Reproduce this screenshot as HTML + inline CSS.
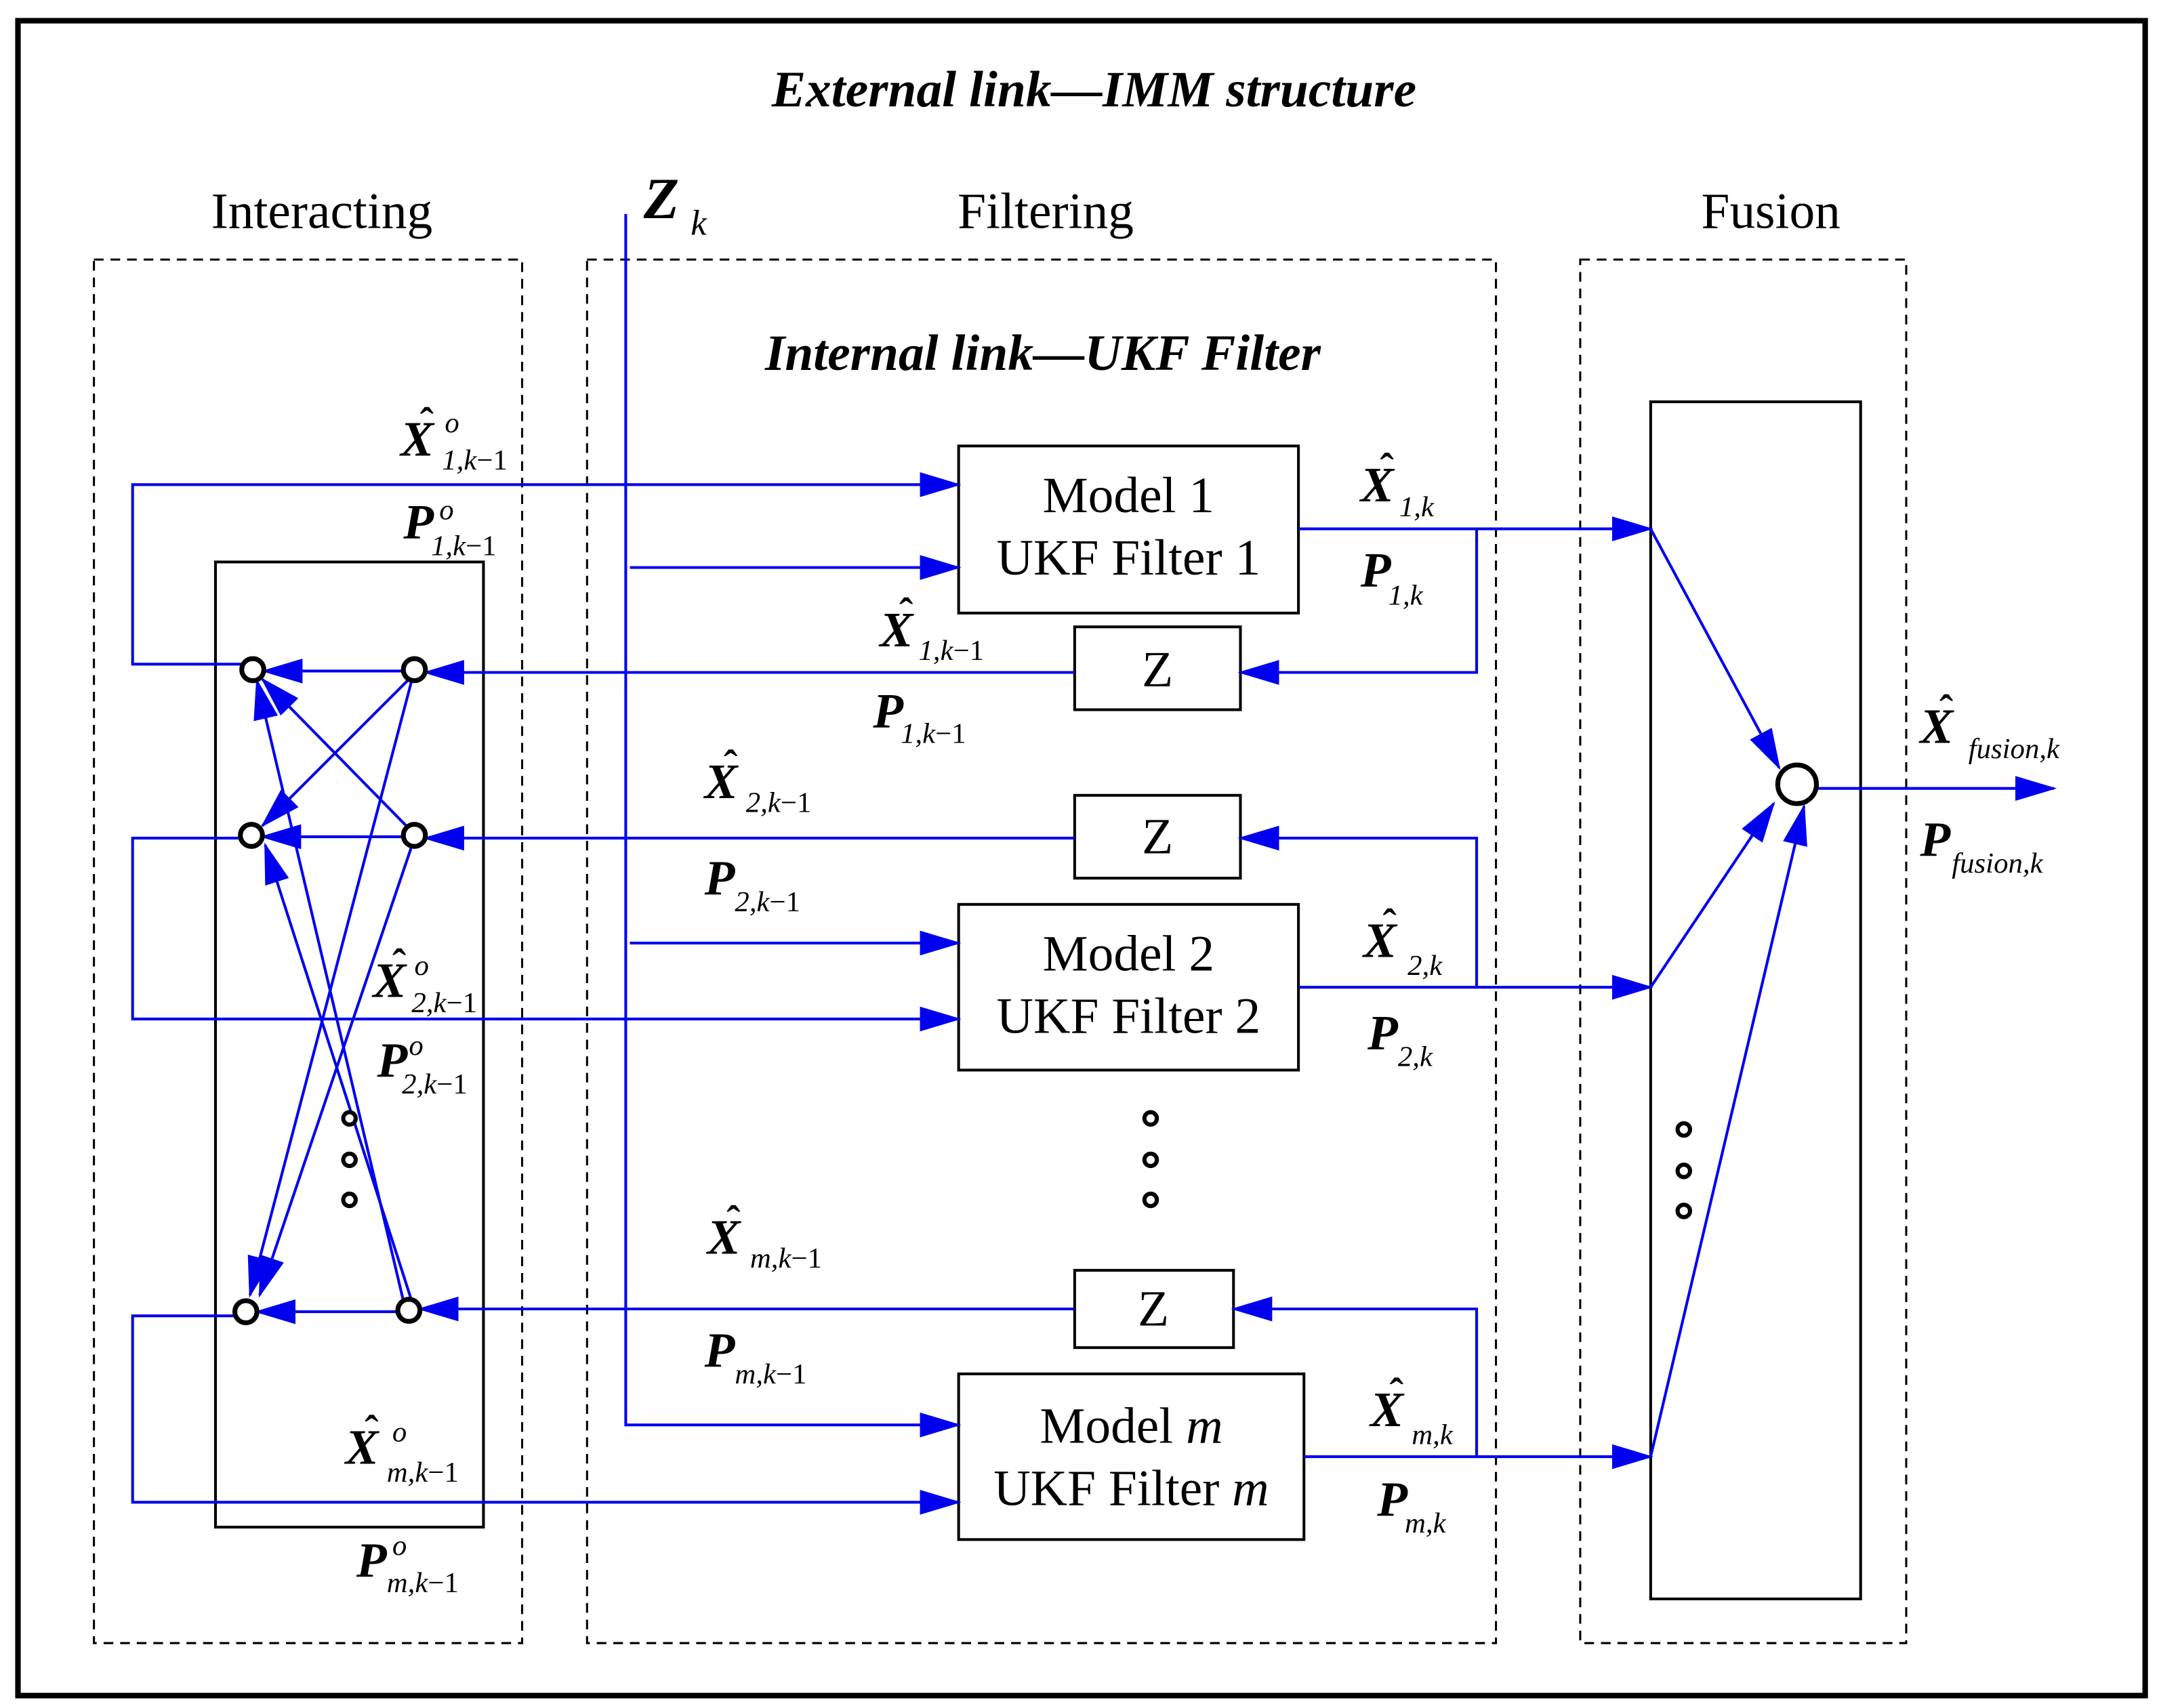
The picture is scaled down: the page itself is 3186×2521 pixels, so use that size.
<!DOCTYPE html>
<html><head><meta charset="utf-8"><style>
html,body{margin:0;padding:0;background:#fff}
svg{display:block}
text{font-family:"Liberation Serif",serif}
.m{font-weight:bold;font-style:italic;font-size:36px}
.h{font-weight:bold;font-size:30px;font-family:"Liberation Serif",serif}
.s{font-style:italic;font-size:21px}
.t{font-size:37px}
</style></head><body>
<svg width="3186" height="2521" viewBox="0 0 1563 1237" preserveAspectRatio="none" xmlns="http://www.w3.org/2000/svg">
<defs>
<marker id="a" markerUnits="userSpaceOnUse" markerWidth="30" markerHeight="18" refX="28" refY="9" orient="auto">
<path d="M0,0 L30,9 L0,18 z" fill="#0000ee"/></marker>
</defs>
<rect x="0" y="0" width="1563" height="1237" fill="#fff"/>
<rect x="13" y="15" width="1540" height="1213" fill="none" stroke="#000" stroke-width="4"/>
<text x="792" y="77" text-anchor="middle" style="font-weight:bold;font-style:italic;font-size:37px">External link—IMM structure</text>
<text x="233" y="165" text-anchor="middle" class="t">Interacting</text>
<text x="757" y="165" text-anchor="middle" class="t">Filtering</text>
<text x="1282" y="165" text-anchor="middle" class="t">Fusion</text>
<g fill="none" stroke="#000" stroke-width="1.5" stroke-dasharray="7,5">
<rect x="68" y="188" width="310" height="1002"/>
<rect x="425" y="188" width="658" height="1002"/>
<rect x="1144" y="188" width="236" height="1002"/>
</g>
<text x="755" y="268" text-anchor="middle" style="font-weight:bold;font-style:italic;font-size:37px">Internal link—UKF Filter</text>
<g fill="#fff" stroke="#000" stroke-width="2">
<rect x="156" y="407" width="194" height="699"/>
<rect x="694" y="323" width="246" height="121"/>
<rect x="694" y="655" width="246" height="120"/>
<rect x="694" y="995" width="250" height="120"/>
<rect x="778" y="454" width="120" height="60"/>
<rect x="778" y="576" width="120" height="60"/>
<rect x="778" y="920" width="115" height="56"/>
<rect x="1195" y="291" width="152" height="867"/>
</g>
<g class="t" text-anchor="middle">
<text x="817" y="371">Model 1</text><text x="817" y="416">UKF Filter 1</text>
<text x="817" y="703">Model 2</text><text x="817" y="748">UKF Filter 2</text>
<text x="819" y="1045">Model <tspan font-style="italic">m</tspan></text><text x="819" y="1090">UKF Filter <tspan font-style="italic">m</tspan></text>
<text x="838" y="497">Z</text><text x="838" y="618">Z</text><text x="835" y="960">Z</text>
</g>
<g fill="none" stroke="#0000ee" stroke-width="2">
<path d="M453,155 V1032 H694" marker-end="url(#a)"/>
<path d="M456,411 H694" marker-end="url(#a)"/>
<path d="M456,683 H694" marker-end="url(#a)"/>
<path d="M175,481 H96 V351 H694" marker-end="url(#a)"/>
<path d="M174,607 H96 V738 H694" marker-end="url(#a)"/>
<path d="M170,953 H96 V1088 H694" marker-end="url(#a)"/>
<path d="M940,383 H1195" marker-end="url(#a)"/>
<path d="M940,715 H1195" marker-end="url(#a)"/>
<path d="M944,1055 H1195" marker-end="url(#a)"/>
<path d="M1069,383 V487 H898" marker-end="url(#a)"/>
<path d="M1069,715 V607 H898" marker-end="url(#a)"/>
<path d="M1069,1055 V948 H893" marker-end="url(#a)"/>
<path d="M778,487 H308" marker-end="url(#a)"/>
<path d="M778,607 H308" marker-end="url(#a)"/>
<path d="M778,948 H304" marker-end="url(#a)"/>
<path d="M292,486 H191" marker-end="url(#a)"/>
<path d="M292,606 H190" marker-end="url(#a)"/>
<path d="M288,950 H186" marker-end="url(#a)"/>
<path d="M296,492 L190,598" marker-end="url(#a)"/>
<path d="M298,493 L181,938" marker-end="url(#a)"/>
<path d="M294,598 L190,492" marker-end="url(#a)"/>
<path d="M298,613 L188,938" marker-end="url(#a)"/>
<path d="M292,942 L186,493" marker-end="url(#a)"/>
<path d="M298,942 L192,612" marker-end="url(#a)"/>
<path d="M1195,383 L1288,556" marker-end="url(#a)"/>
<path d="M1195,715 L1284,582" marker-end="url(#a)"/>
<path d="M1195,1055 L1306,584" marker-end="url(#a)"/>
<path d="M1315,571 H1487" marker-end="url(#a)"/>
</g>
<g fill="#fff" stroke="#000" stroke-width="3.5">
<circle cx="183" cy="485" r="8"/><circle cx="182" cy="605" r="8"/><circle cx="178" cy="950" r="8"/>
<circle cx="300" cy="485" r="8"/><circle cx="300" cy="605" r="8"/><circle cx="296" cy="949" r="8"/>
<circle cx="1301" cy="568" r="14"/>
</g>
<g fill="#fff" stroke="#000" stroke-width="3">
<circle cx="253" cy="810" r="4.5"/><circle cx="253" cy="840" r="4.5"/><circle cx="253" cy="869" r="4.5"/>
<circle cx="833" cy="810" r="4.5"/><circle cx="833" cy="840" r="4.5"/><circle cx="833" cy="869" r="4.5"/>
<circle cx="1219" cy="818" r="4.5"/><circle cx="1219" cy="848" r="4.5"/><circle cx="1219" cy="877" r="4.5"/>
</g>
<text x="466" y="158" class="m" style="font-size:42px">Z</text><text x="500" y="170" class="s" style="font-size:26px">k</text>
<g>
<text x="290" y="330" class="m">X</text><text x="304" y="316" class="h">ˆ</text><text x="322" y="313" class="s">o</text><text x="320" y="340" class="s">1,k<tspan font-style="normal">−1</tspan></text>
<text x="292" y="390" class="m">P</text><text x="318" y="376" class="s">o</text><text x="312" y="402" class="s">1,k<tspan font-style="normal">−1</tspan></text>
<text x="985" y="363" class="m">X</text><text x="999" y="349" class="h">ˆ</text><text x="1013" y="374" class="s">1,k</text>
<text x="985" y="425" class="m">P</text><text x="1005" y="438" class="s">1,k</text>
<text x="637" y="468" class="m">X</text><text x="651" y="454" class="h">ˆ</text><text x="665" y="478" class="s">1,k<tspan font-style="normal">−1</tspan></text>
<text x="632" y="527" class="m">P</text><text x="652" y="538" class="s">1,k<tspan font-style="normal">−1</tspan></text>
<text x="510" y="578" class="m">X</text><text x="524" y="564" class="h">ˆ</text><text x="540" y="588" class="s">2,k<tspan font-style="normal">−1</tspan></text>
<text x="510" y="648" class="m">P</text><text x="532" y="660" class="s">2,k<tspan font-style="normal">−1</tspan></text>
<text x="270" y="722" class="m">X</text><text x="284" y="708" class="h">ˆ</text><text x="300" y="706" class="s">o</text><text x="298" y="733" class="s">2,k<tspan font-style="normal">−1</tspan></text>
<text x="273" y="780" class="m">P</text><text x="296" y="764" class="s">o</text><text x="291" y="792" class="s">2,k<tspan font-style="normal">−1</tspan></text>
<text x="987" y="693" class="m">X</text><text x="1001" y="679" class="h">ˆ</text><text x="1019" y="706" class="s">2,k</text>
<text x="990" y="760" class="m">P</text><text x="1012" y="772" class="s">2,k</text>
<text x="512" y="908" class="m">X</text><text x="526" y="894" class="h">ˆ</text><text x="543" y="918" class="s">m,k<tspan font-style="normal">−1</tspan></text>
<text x="510" y="990" class="m">P</text><text x="532" y="1002" class="s">m,k<tspan font-style="normal">−1</tspan></text>
<text x="250" y="1060" class="m">X</text><text x="264" y="1046" class="h">ˆ</text><text x="284" y="1044" class="s">o</text><text x="280" y="1073" class="s">m,k<tspan font-style="normal">−1</tspan></text>
<text x="258" y="1142" class="m">P</text><text x="284" y="1126" class="s">o</text><text x="280" y="1153" class="s">m,k<tspan font-style="normal">−1</tspan></text>
<text x="992" y="1033" class="m">X</text><text x="1006" y="1019" class="h">ˆ</text><text x="1022" y="1046" class="s">m,k</text>
<text x="997" y="1098" class="m">P</text><text x="1017" y="1110" class="s">m,k</text>
<text x="1390" y="538" class="m">X</text><text x="1404" y="524" class="h">ˆ</text><text x="1425" y="549" class="s">fusion,k</text>
<text x="1390" y="620" class="m">P</text><text x="1413" y="632" class="s">fusion,k</text>
</g>
</svg>
</body></html>
